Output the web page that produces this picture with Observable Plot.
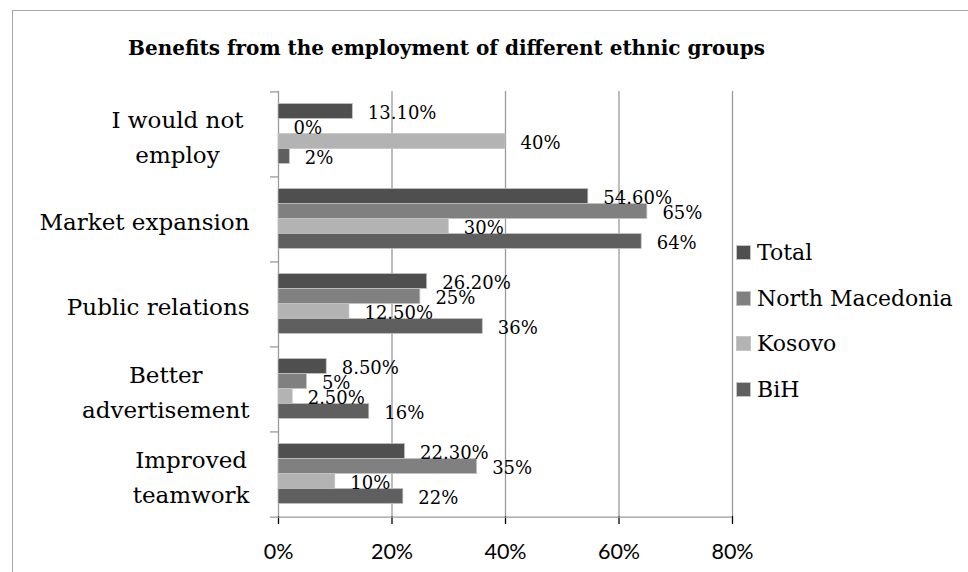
<!DOCTYPE html>
<html>
<head>
<meta charset="utf-8">
<script src="https://cdn.jsdelivr.net/npm/d3@7"></script>
<script src="https://cdn.jsdelivr.net/npm/@observablehq/plot@0.6"></script>
<style>
  html, body { margin: 0; padding: 0; background: #fff; overflow: hidden; }
  #wrap { position: relative; width: 968px; height: 572px; overflow: hidden; }
  #frame { position: absolute; left: 12px; top: 10px; width: 2000px; height: 2000px;
           border-top: 1.5px solid #a6a6a6; border-left: 1.5px solid #a6a6a6; pointer-events: none; }
  #title { position: relative; height: 70px; }
  #title span { position: absolute; left: 128px; top: 37.5px; white-space: nowrap;
                font: bold 20px "DejaVu Serif", serif; color: #000; line-height: 1; }
  #legend { position: absolute; left: 736px; top: 230px; font: 22px "DejaVu Serif", serif; color: #000; }
  #legend .row { height: 45.5px; display: flex; align-items: center; }
  #legend .sw { width: 15px; height: 15px; margin-right: 6px; box-sizing: border-box; border: 0.75px solid #c4c4c4; }
  #wrap svg { display: block; }
  g[aria-label="x-axis tick label"] text, g[aria-label="x-axis"] text {
    font-family: Lato, sans-serif; font-size: 21.5px; fill: #000;
  }
  g[aria-label="x-axis tick"] { stroke: #9a9a9a; stroke-width: 1.3px; }
  g[aria-label="x-axis"] line { stroke: #9a9a9a; stroke-width: 1.3px; }
</style>
</head>
<body>
<div id="wrap">
  <div id="frame"></div>
  <div id="title"><span>Benefits from the employment of different ethnic groups</span></div>
  <div id="legend"></div>
</div>
<script>
// Survey answers: benefits expected from employing people of other ethnic groups (%)
const categories = ["I would not\nemploy", "Market expansion", "Public relations", "Better\nadvertisement", "Improved\nteamwork"];
const series = ["Total", "North Macedonia", "Kosovo", "BiH"];
const total = [13.1, 54.6, 26.2, 8.5, 22.3];
const northMacedonia = [0, 65, 25, 5, 35];
const kosovo = [40, 30, 12.5, 2.5, 10];
const bih = [2, 64, 36, 16, 22];
const xTicks = [0, 20, 40, 60, 80];
const colors = ["#4f4f4f", "#808080", "#b3b3b3", "#5f5f5f"];

const seriesValues = [total, northMacedonia, kosovo, bih];
const rows = categories.flatMap((category, i) =>
  series.map((s, j) => ({category, series: s, value: seriesValues[j][i]}))
);

// Percent labels: whole numbers plain, others with two decimals
const pct = v => Number.isInteger(v) ? `${v}%` : `${v.toFixed(2)}%`;

// Layout
const width = 968, height = 502;
const marginLeft = 278, marginRight = 236, marginTop = 20.5, marginBottom = 56;
const bandH = (height - marginTop - marginBottom) / categories.length;
const barShare = 0.72;                       // part of each group band covered by bars
const padOuter = (series.length / barShare - series.length) / 2;
const step = bandH / (series.length + 2 * padOuter);
const toBandTop = padOuter * step + step / 2; // from first bar centre to the group's top edge
const gridColor = "#9a9a9a";
const labelFont = 23;
const labelGap = 29;

// Width of the longest line of a category label, for centring its lines
const ctx = document.createElement("canvas").getContext("2d");
ctx.font = `${labelFont}px "DejaVu Serif"`;
const lineWidth = t => Math.max(...t.split("\n").map(l => ctx.measureText(l).width));
// the first label sits a little further from the axis
const extraGap = c => c === categories[0] ? 6 : 0;

const categoryLabels = categories.map(c =>
  Plot.text([c], {
    fy: d => d,
    frameAnchor: "left",
    text: d => d,
    textAnchor: "middle",
    lineHeight: 1.52,
    fontSize: labelFont,
    fill: "#000",
    dx: -(labelGap + extraGap(c) + lineWidth(c) / 2)
  })
);

const chart = Plot.plot({
  width, height, marginLeft, marginRight, marginTop, marginBottom,
  style: {fontFamily: "DejaVu Serif", fontSize: "18px", background: "transparent", color: "#000"},
  fy: {domain: categories, padding: 0, axis: null},
  y: {domain: series, paddingInner: 0, paddingOuter: padOuter, axis: null},
  x: {domain: [0, 80], ticks: xTicks, tickFormat: d => `${d}%`, tickSize: 8, tickPadding: 19, label: null},
  color: {domain: series, range: colors},
  marks: [
    // vertical gridlines and the 0% axis line
    Plot.ruleX(xTicks, {stroke: gridColor, strokeWidth: 1.3}),
    // short ticks at the top edge of every category group
    Plot.ruleY(categories, {fy: d => d, y: () => series[0], x1: 0, x2: 0, insetLeft: -8,
      dy: -toBandTop, stroke: gridColor, strokeWidth: 1.3}),
    // bottom axis line, with its tick to the left
    Plot.ruleY(categories.slice(-1), {fy: d => d, y: () => series[0], x1: 0, x2: 80, insetLeft: -8,
      dy: bandH - toBandTop, stroke: gridColor, strokeWidth: 1.3}),
    Plot.barX(rows, {fy: "category", y: "series", x: "value", fill: "series",
      stroke: "#c4c4c4", strokeWidth: 0.75}),
    Plot.text(rows, {fy: "category", y: "series", x: "value", text: d => pct(d.value),
      textAnchor: "start", dx: 15, dy: 1.5, fontSize: 18, fill: "#000"}),
    ...categoryLabels
  ]
});

document.getElementById("wrap").appendChild(chart);

// Legend, one swatch per series
const legend = d3.select("#legend");
series.forEach((s, i) => {
  const row = legend.append("div").attr("class", "row");
  row.append("div").attr("class", "sw").style("background", colors[i]);
  row.append("span").text(s);
});
</script>
</body>
</html>
